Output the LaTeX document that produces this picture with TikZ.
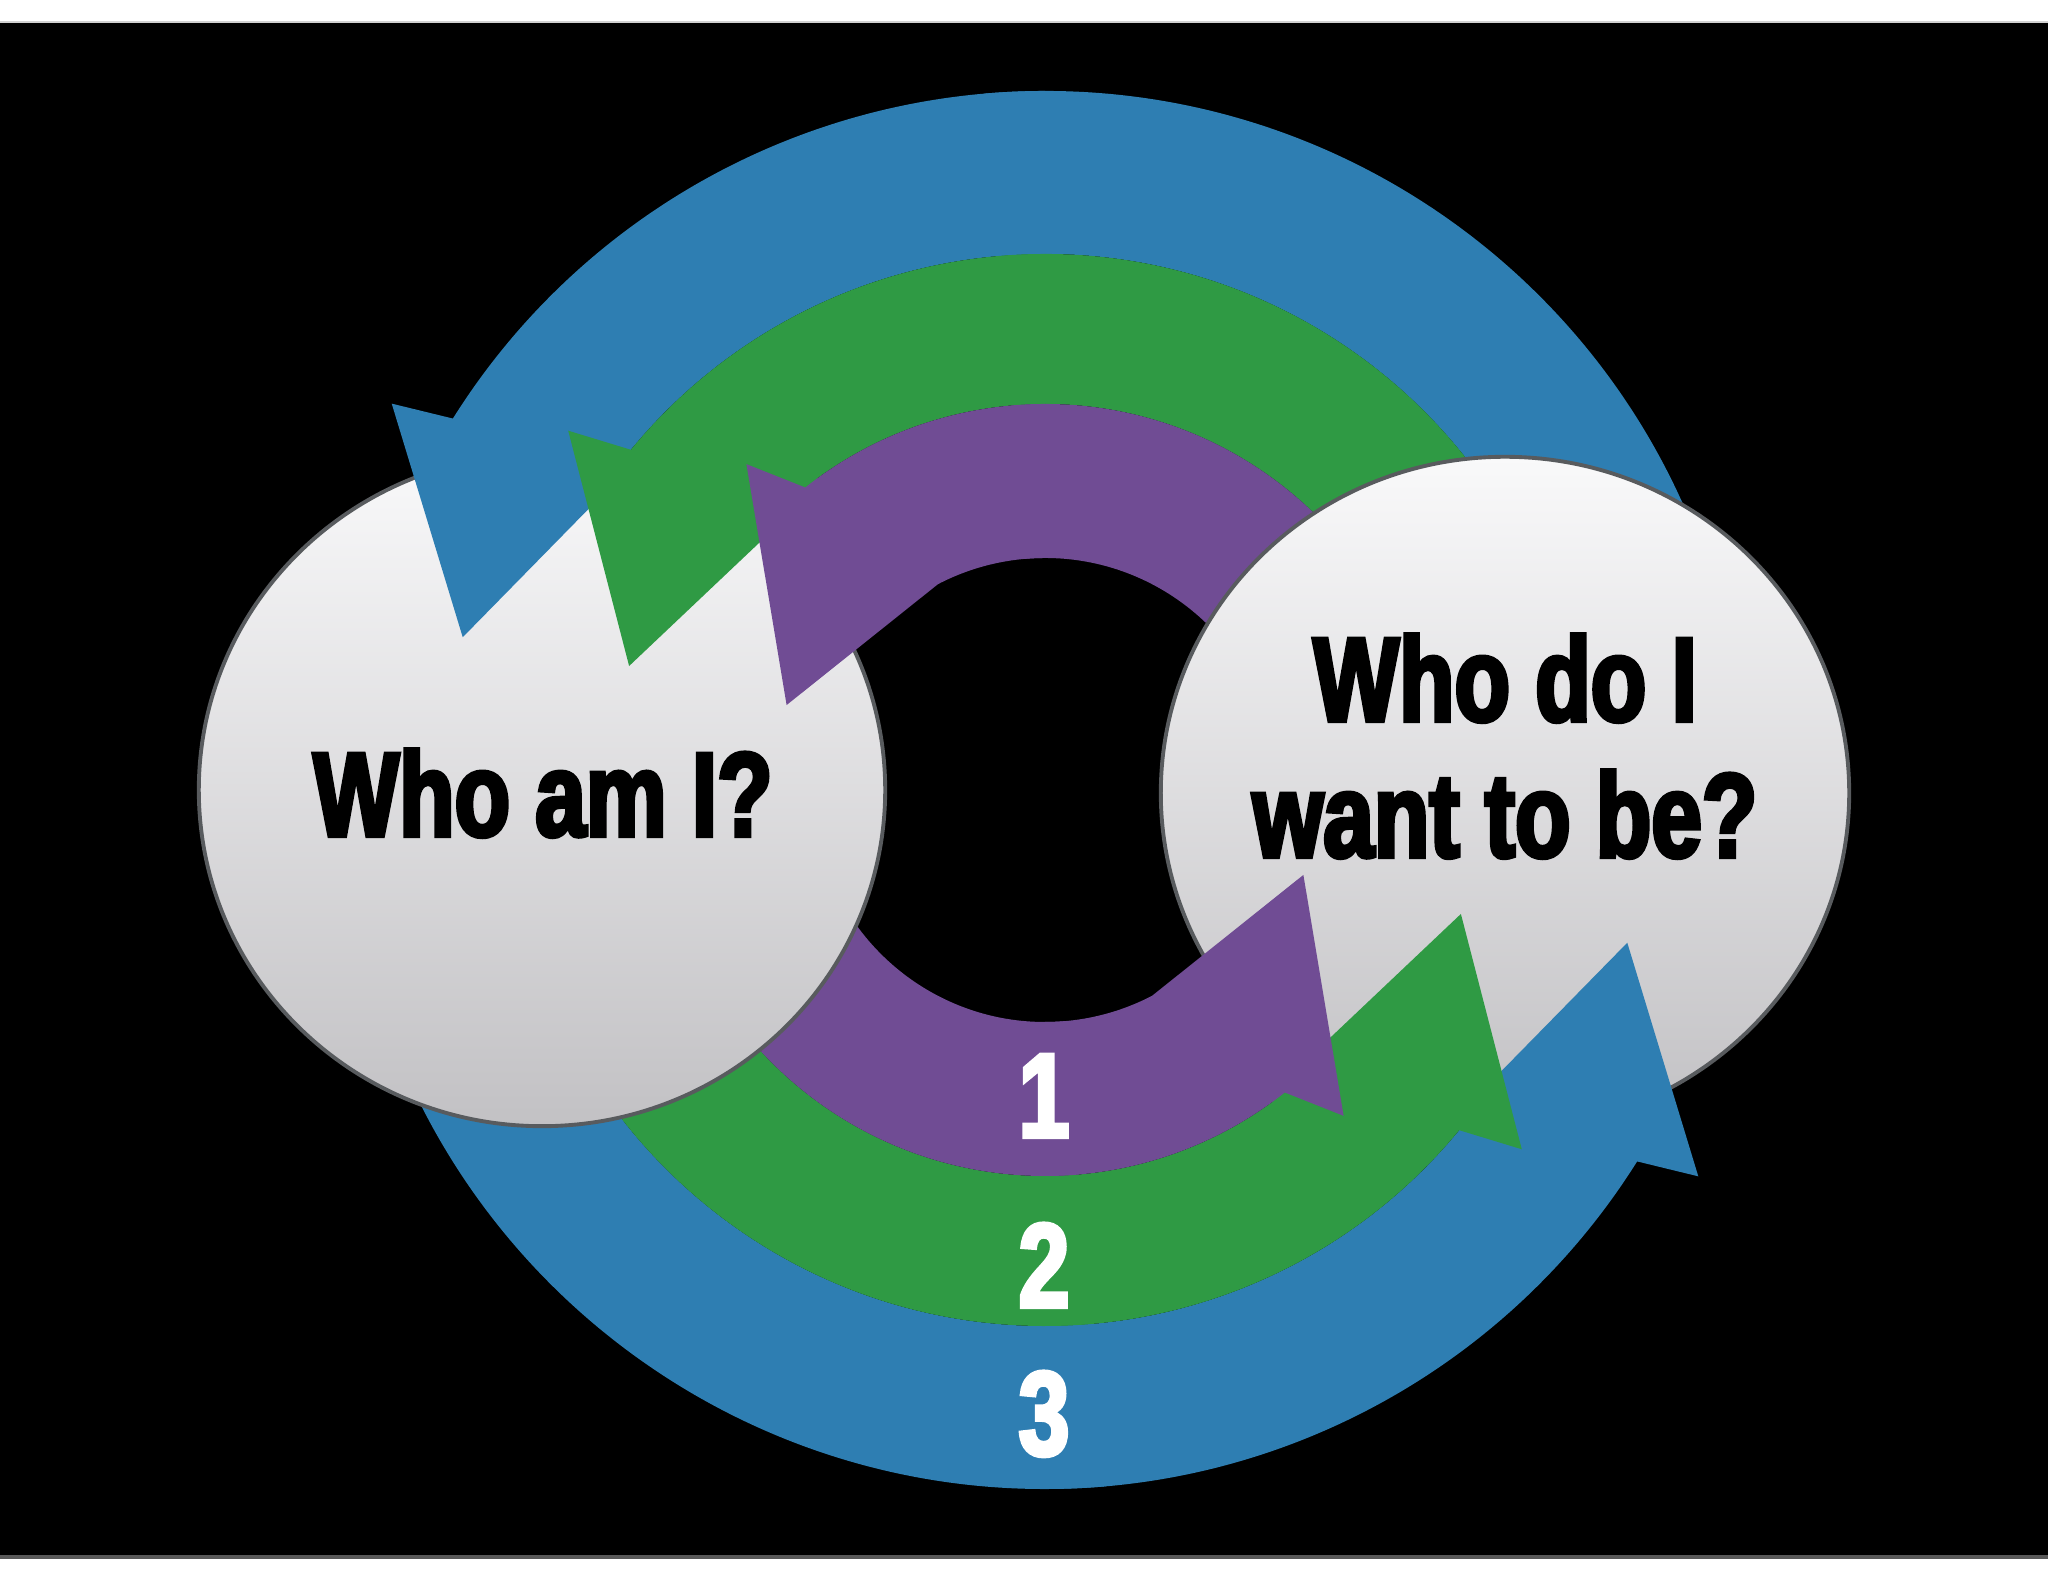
\documentclass[tikz,border=0pt]{standalone}
\usepackage{fontspec}
\newfontfamily\impactf[FakeStretch=0.76,FakeBold=3.5]{Liberation Sans}
\usetikzlibrary{shapes.geometric}
\definecolor{ringblue}{RGB}{46,126,178}
\definecolor{ringgreen}{RGB}{47,154,68}
\definecolor{ringpurple}{RGB}{112,76,148}
\definecolor{bubtop}{RGB}{249,249,250}
\definecolor{bubbot}{RGB}{194,193,196}
\definecolor{bubline}{RGB}{88,91,94}
\begin{document}
\begin{tikzpicture}[x=0.01cm,y=0.01cm,
  bubble/.style={ellipse, draw=bubline, line width=1.1pt, top color=bubtop, bottom color=bubbot, inner sep=0pt},
  qtext/.style={font=\impactf\bfseries\fontsize{34}{40}\selectfont, text=black, anchor=base, inner sep=0pt},
  numtext/.style={qtext, text=white}]
\useasboundingbox (0,0) rectangle (2048,1582);
\fill[white] (0,0) rectangle (2048,1582);
\fill[black] (0,25) rectangle (2048,1560);
\draw[gray!35, line width=0.6pt] (0,1560) -- (2048,1560);
\draw[gray!70!black, line width=1pt] (0,25) -- (2048,25);

\coordinate (C) at (1045,792);

% ---- tail parts of the bands (under the bubbles)
\foreach \rot in {0,180}{
  \fill[ringblue, shift={(C)}, rotate=\rot]
    (10:699) arc[start angle=10, end angle=95, radius=699]
    -- (95:536) arc[start angle=95, end angle=10, radius=536] -- cycle;
  \fill[ringgreen, shift={(C)}, rotate=\rot]
    (10:536) arc[start angle=10, end angle=95, radius=536]
    -- (95:386) arc[start angle=95, end angle=10, radius=386] -- cycle;
  \fill[ringpurple, shift={(C)}, rotate=\rot]
    (10:386) arc[start angle=10, end angle=95, radius=386]
    -- (95:232) arc[start angle=95, end angle=10, radius=232] -- cycle;
}

% ---- bubbles
\node[bubble, minimum width=6.86cm, minimum height=6.72cm] (left) at (542,792) {};
\node[bubble, minimum width=6.88cm, minimum height=6.72cm] (right) at (1505,789) {};

% ---- head parts of the bands (over the bubbles)
\foreach \rot in {0,180}{
  \fill[ringblue, shift={(C)}, rotate=\rot]
    (90:699) arc[start angle=90, end angle=147.9, radius=699]
    -- (149.4:759) -- (165.3:602) -- (142.9:527) -- (141:536)
    arc[start angle=141, end angle=90, radius=536] -- cycle;
}
\foreach \rot in {0,180}{
  \fill[ringgreen, shift={(C)}, rotate=\rot]
    (90:536) arc[start angle=90, end angle=140.6, radius=536]
    -- (143.0:597) -- (163.4:434) -- (133.7:376) -- (126:386)
    arc[start angle=126, end angle=90, radius=386] -- cycle;
}
\foreach \rot in {0,180}{
  \fill[ringpurple, shift={(C)}, rotate=\rot]
    (90:386) arc[start angle=90, end angle=128.4, radius=386]
    -- (132.5:442) -- (161.8:272) -- (117.5:232)
    arc[start angle=117.5, end angle=90, radius=232] -- cycle;
}

% ---- texts
\node[qtext] (q1) at (543,746) {Who am I?};
\node[qtext] (q2a) at (1505,861) {Who do I};
\node[qtext] (q2b) at (1505,725) {want to be?};

\node[numtext] (n1) at (1044,445) {1};
\node[numtext] (n2) at (1044,275) {2};
\node[numtext] (n3) at (1044,127) {3};
\end{tikzpicture}
\end{document}
